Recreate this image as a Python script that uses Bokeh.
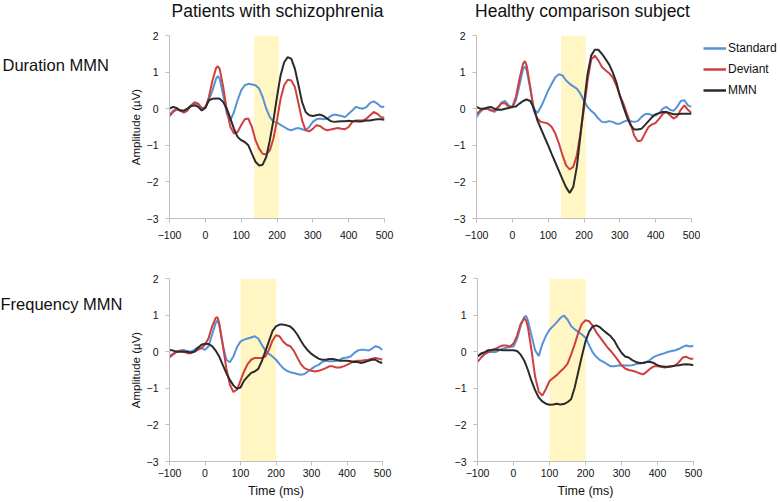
from bokeh.plotting import figure
from bokeh.layouts import column, row
from bokeh.models import BoxAnnotation, Label, Legend, LegendItem, FixedTicker, Range1d
from bokeh.embed import file_html
from bokeh.resources import INLINE

# ---------------- data ----------------
time_ms = [-100, -90, -80, -70, -60, -50, -40, -30, -20, -10, 0,
           10, 20, 30, 35, 40,
           50, 60, 70, 80, 90, 100, 110, 120, 130, 140, 150,
           160, 170, 180, 190, 200, 210, 220, 230, 240, 250,
           260, 270, 280, 290, 300, 310, 320, 330, 340, 350,
           360, 370, 380, 390, 400, 410, 420, 430, 440, 450, 460, 470, 480, 490, 500]

x_ticks = [-100, 0, 100, 200, 300, 400, 500]
y_ticks = [-3, -2, -1, 0, 1, 2]

col_titles = ["Patients with schizophrenia", "Healthy comparison subject"]
row_titles = ["Duration MMN", "Frequency MMN"]
series_names = ["Standard", "Deviant", "MMN"]
x_label = "Time (ms)"
y_label = "Amplitude (\u00b5V)"

# analysis windows (ms)
dur_window = [136, 205]
freq_window = [100, 200]

# Duration MMN, patients
dur_pat_std = [-0.18, -0.05, 0.00, -0.05, -0.07, 0.00, 0.09, 0.14, 0.10, 0.00, 0.05,
               0.23, 0.50, 0.82, 0.89, 0.82,
               0.36, -0.14, -0.32, -0.09, 0.23, 0.50, 0.64, 0.68, 0.66, 0.64, 0.55,
               0.32, 0.00, -0.23, -0.35, -0.38, -0.44, -0.50, -0.56, -0.59, -0.55,
               -0.53, -0.56, -0.59, -0.50, -0.36, -0.29, -0.27, -0.29, -0.27, -0.20,
               -0.16, -0.18, -0.20, -0.23, -0.14, -0.05, 0.05, 0.02, 0.00, 0.05, 0.16, 0.20, 0.14, 0.05, 0.05]
dur_pat_dev = [-0.20, -0.09, -0.02, -0.05, -0.11, -0.05, 0.09, 0.18, 0.14, 0.02, 0.02,
               0.32, 0.77, 1.11, 1.16, 1.09,
               0.59, -0.05, -0.50, -0.68, -0.64, -0.45, -0.29, -0.27, -0.50, -0.86, -1.09,
               -1.23, -1.25, -1.14, -0.82, -0.32, 0.27, 0.64, 0.79, 0.77, 0.59,
               0.14, -0.32, -0.59, -0.62, -0.55, -0.45, -0.47, -0.55, -0.59, -0.57,
               -0.55, -0.53, -0.55, -0.56, -0.50, -0.36, -0.32, -0.32, -0.32, -0.27, -0.18, -0.09, -0.14, -0.23, -0.25]
dur_pat_mmn = [0.00, 0.05, 0.02, -0.05, -0.05, 0.00, 0.07, 0.09, 0.05, -0.05, 0.02,
               0.23, 0.27, 0.28, 0.28, 0.27,
               0.18, 0.00, -0.27, -0.55, -0.77, -0.86, -0.91, -1.00, -1.23, -1.45, -1.55,
               -1.53, -1.32, -0.86, -0.32, 0.32, 0.91, 1.27, 1.41, 1.36, 1.09,
               0.64, 0.18, -0.09, -0.18, -0.20, -0.18, -0.16, -0.20, -0.27, -0.34,
               -0.36, -0.35, -0.34, -0.34, -0.33, -0.34, -0.34, -0.35, -0.34, -0.32, -0.32, -0.30, -0.29, -0.29, -0.30]

# Duration MMN, healthy subject
dur_hc_std = [-0.23, -0.09, 0.00, 0.00, -0.03, -0.09, 0.00, 0.18, 0.21, 0.09, 0.03,
              0.23, 0.64, 1.09, 1.15, 1.05,
              0.55, 0.00, -0.12, 0.05, 0.27, 0.50, 0.68, 0.86, 0.94, 0.91, 0.77,
              0.68, 0.61, 0.55, 0.41, 0.21, 0.05, -0.06, -0.14, -0.27, -0.36,
              -0.37, -0.34, -0.36, -0.41, -0.41, -0.36, -0.32, -0.34, -0.36, -0.34,
              -0.23, -0.15, -0.14, -0.18, -0.18, -0.12, 0.00, 0.05, -0.03, -0.06, 0.05, 0.21, 0.23, 0.09, 0.05]
dur_hc_dev = [-0.14, -0.06, 0.00, 0.00, -0.05, -0.05, 0.05, 0.15, 0.15, 0.05, 0.05,
              0.32, 0.82, 1.23, 1.30, 1.18,
              0.59, -0.05, -0.27, -0.36, -0.38, -0.41, -0.50, -0.68, -0.95, -1.27, -1.55,
              -1.66, -1.59, -1.27, -0.68, 0.00, 0.77, 1.34, 1.45, 1.32, 1.14,
              1.05, 0.97, 0.86, 0.64, 0.36, 0.14, -0.14, -0.41, -0.73, -0.89,
              -0.87, -0.68, -0.50, -0.43, -0.39, -0.27, -0.14, -0.09, -0.18, -0.27, -0.21, -0.03, 0.09, -0.03, -0.12]
dur_hc_mmn = [0.05, 0.00, 0.00, 0.03, 0.05, 0.00, -0.03, -0.03, 0.00, 0.02, 0.05,
              0.06, 0.14, 0.21, 0.23, 0.25,
              0.21, 0.02, -0.32, -0.55, -0.78, -1.00, -1.24, -1.47, -1.70, -1.93, -2.15,
              -2.30, -2.14, -1.59, -0.73, 0.14, 0.95, 1.45, 1.61, 1.61, 1.50,
              1.36, 1.21, 1.00, 0.73, 0.36, 0.05, -0.23, -0.45, -0.57, -0.57,
              -0.55, -0.45, -0.34, -0.23, -0.15, -0.12, -0.09, -0.09, -0.12, -0.15, -0.15, -0.14, -0.14, -0.14, -0.14]

# Frequency MMN, patients
freq_pat_std = [-0.16, -0.08, 0.00, 0.03, 0.05, 0.01, 0.00, 0.05, 0.12, 0.10, 0.05,
                0.15, 0.47, 0.78, 0.85, 0.74,
                0.19, -0.22, -0.29, -0.13, 0.12, 0.28, 0.33, 0.36, 0.39, 0.42, 0.36,
                0.19, 0.03, -0.06, -0.13, -0.22, -0.34, -0.45, -0.52, -0.56, -0.58,
                -0.61, -0.63, -0.61, -0.54, -0.47, -0.40, -0.36, -0.28, -0.25, -0.26,
                -0.26, -0.25, -0.22, -0.17, -0.16, -0.13, -0.04, 0.03, 0.05, 0.05, 0.03, 0.08, 0.15, 0.12, 0.05]
freq_pat_dev = [-0.13, -0.06, 0.00, 0.03, 0.00, -0.04, -0.04, 0.00, 0.05, 0.10, 0.19,
                0.37, 0.69, 0.92, 0.94, 0.78,
                0.19, -0.45, -0.90, -1.10, -1.04, -0.79, -0.54, -0.34, -0.22, -0.17, -0.17,
                -0.17, -0.13, 0.05, 0.30, 0.45, 0.42, 0.28, 0.19, 0.15, 0.03,
                -0.16, -0.34, -0.45, -0.49, -0.52, -0.54, -0.52, -0.49, -0.45, -0.40,
                -0.40, -0.43, -0.43, -0.40, -0.36, -0.31, -0.26, -0.25, -0.25, -0.23, -0.22, -0.19, -0.17, -0.19, -0.22]
freq_pat_mmn = [0.05, 0.03, 0.00, 0.00, 0.00, 0.00, -0.02, 0.00, 0.10, 0.19, 0.22,
                0.21, 0.15, 0.03, -0.05, -0.13,
                -0.36, -0.58, -0.77, -0.92, -1.01, -0.98, -0.79, -0.68, -0.58, -0.54, -0.47,
                -0.26, 0.01, 0.28, 0.56, 0.69, 0.74, 0.74, 0.72, 0.69, 0.60,
                0.47, 0.30, 0.15, 0.03, -0.06, -0.13, -0.19, -0.22, -0.22, -0.20,
                -0.20, -0.22, -0.25, -0.25, -0.25, -0.26, -0.28, -0.28, -0.31, -0.28, -0.25, -0.22, -0.22, -0.28, -0.31]

# Frequency MMN, healthy subject
freq_hc_std = [-0.13, -0.07, -0.04, -0.01, -0.01, -0.01, 0.04, 0.08, 0.11, 0.13, 0.14,
               0.35, 0.71, 0.95, 0.98, 0.85,
               0.44, 0.04, -0.12, 0.20, 0.43, 0.60, 0.70, 0.80, 0.92, 0.99, 0.88,
               0.70, 0.61, 0.54, 0.47, 0.38, 0.18, -0.02, -0.14, -0.23, -0.28,
               -0.34, -0.40, -0.40, -0.38, -0.37, -0.38, -0.38, -0.37, -0.34, -0.32,
               -0.31, -0.28, -0.22, -0.14, -0.10, -0.07, -0.04, 0.00, 0.02, 0.04, 0.08, 0.13, 0.17, 0.14, 0.16]
freq_hc_dev = [-0.28, -0.16, -0.07, -0.01, 0.04, 0.08, 0.13, 0.17, 0.17, 0.14, 0.22,
               0.44, 0.76, 0.91, 0.85, 0.67,
               0.04, -0.68, -1.09, -1.20, -1.02, -0.80, -0.72, -0.64, -0.54, -0.45, -0.33,
               -0.08, 0.20, 0.52, 0.76, 0.86, 0.83, 0.71, 0.53, 0.40, 0.26,
               0.13, 0.02, -0.10, -0.23, -0.37, -0.46, -0.50, -0.52, -0.55, -0.59,
               -0.62, -0.55, -0.46, -0.40, -0.40, -0.41, -0.43, -0.41, -0.40, -0.37, -0.28, -0.16, -0.14, -0.19, -0.19]
freq_hc_mmn = [-0.13, -0.05, -0.01, 0.04, 0.05, 0.05, 0.05, 0.04, 0.04, 0.04, 0.04,
               0.02, -0.08, -0.25, -0.37, -0.50,
               -0.80, -1.05, -1.25, -1.36, -1.42, -1.45, -1.44, -1.42, -1.44, -1.43, -1.38,
               -1.30, -0.98, -0.55, -0.12, 0.28, 0.55, 0.69, 0.72, 0.67, 0.58,
               0.50, 0.42, 0.30, 0.12, -0.03, -0.13, -0.16, -0.23, -0.28, -0.31,
               -0.31, -0.28, -0.28, -0.31, -0.37, -0.40, -0.41, -0.41, -0.40, -0.38, -0.37, -0.35, -0.34, -0.35, -0.37]

# ---------------- style ----------------
COLORS = ["#5592d6", "#cf3f3d", "#2b2b2b"]
SHADE = "#fff6c4"
AXIS = "#bfbfbf"
FONT = "Liberation Sans"
INK = "#111111"


def text_fig(width, height, x_range=(0, 1)):
    f = figure(width=width, height=height, x_range=Range1d(*x_range), y_range=Range1d(-3, 2),
               output_backend="svg", toolbar_location=None, title=None, min_border=0,
               x_axis_location=None, y_axis_location=None)
    f.outline_line_color = None
    f.grid.visible = False
    return f


def add_text(p, text, x, y, size, align="left", baseline="middle"):
    p.add_layout(Label(x=x, y=y, x_units="screen", y_units="screen", text=text,
                       text_font=FONT, text_font_size=size, text_align=align,
                       text_baseline=baseline, text_color=INK))


def panel(width, height, bl, br, bt, bb, series, window, label_standoff, ylabel=False, xlabel=False):
    p = figure(width=width, height=height, x_range=Range1d(-100, 500), y_range=Range1d(-3, 2),
               output_backend="svg", toolbar_location=None, title=None,
               min_border_left=bl, min_border_right=br, min_border_top=bt, min_border_bottom=bb)
    p.outline_line_color = None
    p.grid.visible = False
    p.xaxis.ticker = FixedTicker(ticks=x_ticks)
    p.yaxis.ticker = FixedTicker(ticks=y_ticks)
    for ax in (p.xaxis, p.yaxis):
        ax.axis_line_color = AXIS
        ax.major_tick_line_color = AXIS
        ax.minor_tick_line_color = None
        ax.major_tick_out = 4
        ax.major_tick_in = 0
        ax.major_label_text_font = FONT
        ax.major_label_text_font_size = "10.5px"
        ax.major_label_text_color = INK
        ax.axis_label_text_font = FONT
        ax.axis_label_text_font_style = "normal"
        ax.axis_label_text_color = INK
    p.xaxis.major_label_standoff = label_standoff
    p.yaxis.major_label_standoff = 7
    if ylabel:
        p.yaxis.axis_label = y_label
        p.yaxis.axis_label_text_font_size = "11.5px"
        p.yaxis.axis_label_standoff = 2
    if xlabel:
        p.xaxis.axis_label = x_label
        p.xaxis.axis_label_text_font_size = "12.5px"
        p.xaxis.axis_label_standoff = 4
    p.add_layout(BoxAnnotation(left=window[0], right=window[1], fill_color=SHADE,
                               fill_alpha=1.0, line_color=None, level="underlay"))
    for vals, c in zip(series, COLORS):
        p.line(time_ms, vals, line_color=c, line_width=2)
    return p


# header with column titles
header = text_fig(780, 25)
add_text(header, col_titles[0], 277, 15, "17.5px", align="center")
add_text(header, col_titles[1], 582, 15, "17.5px", align="center")

# row labels (positions measured from the bottom of the row's aligned frame)
lab1 = text_fig(126, 225)
add_text(lab1, row_titles[0], 2, 154, "16.5px")
lab2 = text_fig(126, 250)
add_text(lab2, row_titles[1], 0, 158, "16.5px")

# panels
tl = panel(282, 225, 41, 24, 10, 32, [dur_pat_std, dur_pat_dev, dur_pat_mmn], dur_window, 8, ylabel=True)
tr = panel(292, 225, 68, 9, 10, 32, [dur_hc_std, dur_hc_dev, dur_hc_mmn], dur_window, 8)
bl = panel(282, 250, 41, 26, 28, 39, [freq_pat_std, freq_pat_dev, freq_pat_mmn], freq_window, 3,
           ylabel=True, xlabel=True)
br = panel(372, 250, 69, 87, 28, 39, [freq_hc_std, freq_hc_dev, freq_hc_mmn], freq_window, 3, xlabel=True)

# legend (its swatch renderers hold the healthy-subject duration curves, kept outside its visible range)
legf = text_fig(80, 225, x_range=(1000, 1001))
swatches = [legf.line(time_ms, vals, line_color=c, line_width=2.5)
            for vals, c in zip([dur_hc_std, dur_hc_dev, dur_hc_mmn], COLORS)]
legend = Legend(items=[LegendItem(label=n, renderers=[r]) for n, r in zip(series_names, swatches)],
                location=(3, 119), orientation="vertical", glyph_width=23, glyph_height=18,
                spacing=3, padding=0, margin=0, label_standoff=2,
                border_line_color=None, background_fill_alpha=0,
                label_text_font=FONT, label_text_font_size="12px", label_text_color=INK)
legf.add_layout(legend, "center")

layout = column(header, row(lab1, tl, tr, legf), row(lab2, bl, br))

open("out.html", "w").write(file_html(layout, INLINE))
